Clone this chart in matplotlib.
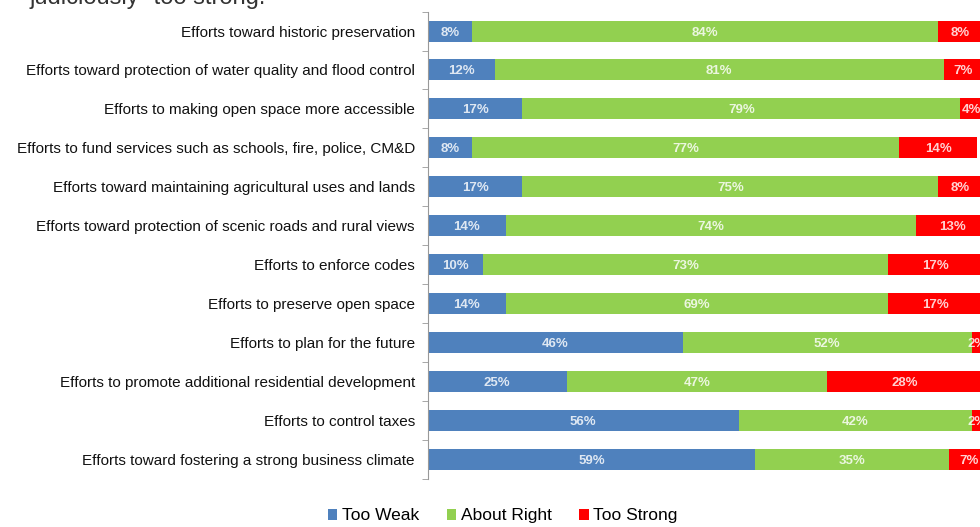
import matplotlib.pyplot as plt
import numpy as np

plt.rcParams['font.family'] = ['Liberation Sans', 'DejaVu Sans']

categories = [
    "Efforts toward historic preservation",
    "Efforts toward protection of water quality and flood control",
    "Efforts to making open space more accessible",
    "Efforts to fund services such as schools, fire, police, CM&D",
    "Efforts toward maintaining agricultural uses and lands",
    "Efforts toward protection of scenic roads and rural views",
    "Efforts to enforce codes",
    "Efforts to preserve open space",
    "Efforts to plan for the future",
    "Efforts to promote additional residential development",
    "Efforts to control taxes",
    "Efforts toward fostering a strong business climate",
]
too_weak = [8, 12, 17, 8, 17, 14, 10, 14, 46, 25, 56, 59]
about_right = [84, 81, 79, 77, 75, 74, 73, 69, 52, 47, 42, 35]
too_strong = [8, 7, 4, 14, 8, 13, 17, 17, 2, 28, 2, 7]

series = [("Too Weak", too_weak, "#4f81bd"),
          ("About Right", about_right, "#92d050"),
          ("Too Strong", too_strong, "#ff0000")]

fig = plt.figure(figsize=(9.8, 5.27), dpi=100)
ax = fig.add_axes([0.4367, 0.092, 0.566, 0.886])

y = np.arange(len(categories))
left = np.zeros(len(categories))
for name, vals, color in series:
    vals = np.array(vals, dtype=float)
    ax.barh(y, vals, left=left, height=0.54, color=color, label=name)
    # value labels in the middle of each segment
    for yi, l, v in zip(y, left, vals):
        ax.text(l + v / 2, yi, f"{int(v)}%", ha="center", va="center_baseline",
                color="white", fontsize=9.5, fontweight="bold", alpha=0.82)
    left += vals

ax.set_xlim(0, 100)
ax.set_ylim(len(categories) - 0.5, -0.5)
ax.set_yticks(y)
ax.set_yticklabels(categories, fontsize=11, color="#111111")
ax.set_yticks(np.arange(-0.5, len(categories)), minor=True)
ax.tick_params(axis="y", which="major", length=0, pad=9.5)
ax.tick_params(axis="y", which="minor", length=4, color="#999999")
ax.set_xticks([])
for s in ["top", "right", "bottom"]:
    ax.spines[s].set_visible(False)
ax.spines["left"].set_color("#999999")

handles, labels = ax.get_legend_handles_labels()
fig.legend(handles, labels, loc="center", bbox_to_anchor=(0.513, 0.021),
           ncol=3, frameon=False, fontsize=12.5, handlelength=0.55,
           handleheight=0.55, handletextpad=0.25, columnspacing=1.6)

fig.text(0.03, 1.003, 'judiciously "too strong."', fontsize=17,
         color="#333333", va="center", ha="left")

fig.savefig("out.png", dpi=100)
